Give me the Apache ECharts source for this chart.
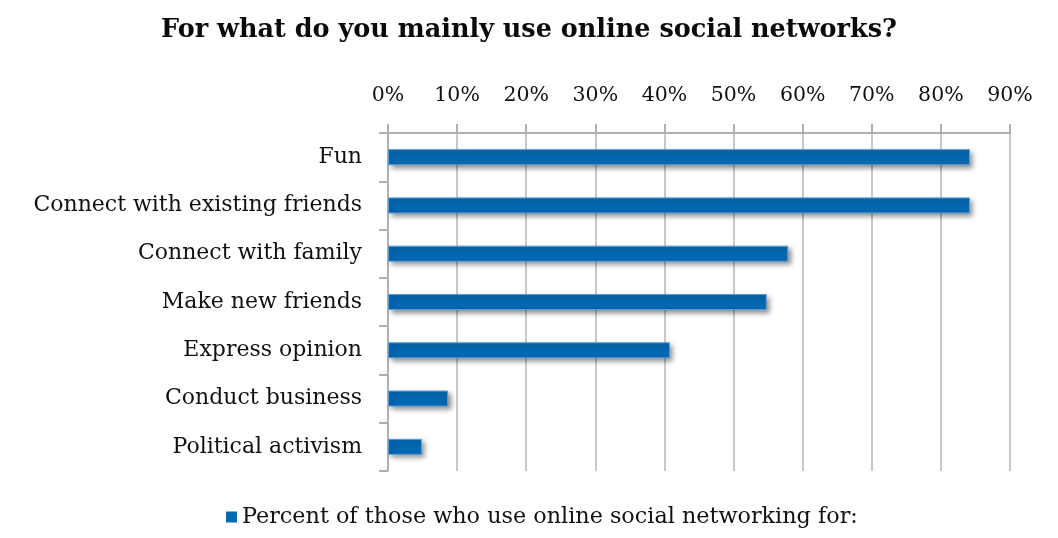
<!DOCTYPE html>
<html>
<head>
<meta charset="utf-8">
<script src="https://cdn.jsdelivr.net/npm/echarts@6/dist/echarts.min.js"></script>
<style>
  html, body { margin: 0; padding: 0; background: #ffffff; }
  #chart { width: 1058px; height: 538px; }
</style>
</head>
<body>
<div id="chart"></div>
<script>
// Survey answers, top to bottom
const categories = [
  'Fun',
  'Connect with existing friends',
  'Connect with family',
  'Make new friends',
  'Express opinion',
  'Conduct business',
  'Political activism'
];
// Share of respondents (percent)
const percentValues = [84.2, 84.2, 57.9, 54.8, 40.8, 8.7, 4.9];
const seriesName = 'Percent of those who use online social networking for:';
const titleText = 'For what do you mainly use online social networks?';

const serif = '"DejaVu Serif", "Liberation Serif", serif';
const barColor = '#0568b3';
const textColor = '#111111';

const chart = echarts.init(document.getElementById('chart'));
chart.setOption({
  animation: false,
  backgroundColor: '#ffffff',
  title: {
    text: titleText,
    left: 'center',
    top: 12,
    textStyle: { fontFamily: serif, fontSize: 25.5, fontWeight: 'bold', color: '#0a0a0a' }
  },
  legend: {
    bottom: 5,
    left: 221,
    itemWidth: 11,
    itemHeight: 11,
    itemGap: 6,
    icon: 'rect',
    data: [seriesName],
    itemStyle: { borderWidth: 0, shadowBlur: 0, shadowOffsetX: 0, shadowOffsetY: 0 },
    textStyle: { fontFamily: serif, fontSize: 22.3, color: textColor }
  },
  grid: { left: 388, right: 48, top: 133, bottom: 67, containLabel: false },
  xAxis: {
    type: 'value',
    position: 'top',
    min: 0,
    max: 90,
    interval: 10,
    axisLine: { show: true, lineStyle: { color: '#b0b0b0', width: 2 } },
    axisTick: { show: true, length: 9, lineStyle: { color: '#b0b0b0', width: 2 } },
    splitLine: { show: true, lineStyle: { color: '#c8c8c8', width: 2 } },
    axisLabel: {
      formatter: v => v + '%',
      fontFamily: serif,
      fontSize: 20.5,
      color: textColor,
      margin: 27
    }
  },
  yAxis: {
    type: 'category',
    inverse: true,
    data: categories,
    axisLine: { show: true, lineStyle: { color: '#b0b0b0', width: 2 } },
    axisTick: { show: true, length: 9, lineStyle: { color: '#b0b0b0', width: 2 } },
    axisLabel: {
      fontFamily: serif,
      fontSize: 22,
      color: textColor,
      margin: 26
    }
  },
  series: [{
    name: seriesName,
    type: 'bar',
    data: percentValues,
    barWidth: 16,
    itemStyle: {
      color: barColor,
      borderColor: '#5b9bd5',
      borderWidth: 1,
      shadowColor: 'rgba(0,0,0,0.45)',
      shadowBlur: 5,
      shadowOffsetX: 3,
      shadowOffsetY: 3
    }
  }]
});
</script>
</body>
</html>
